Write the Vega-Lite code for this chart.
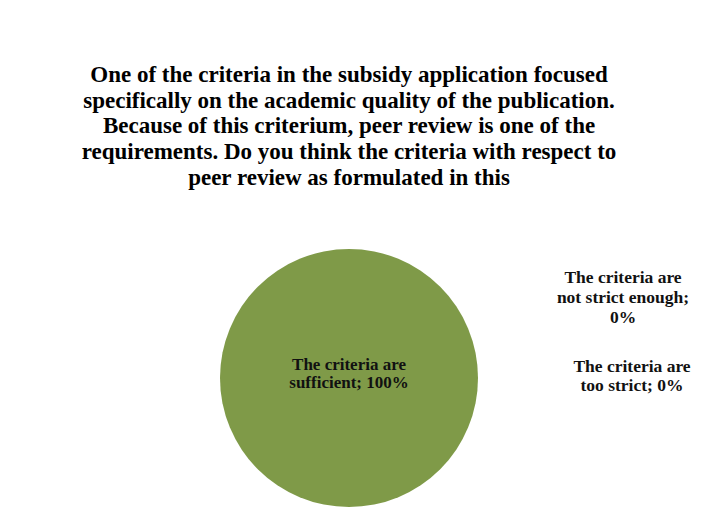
{
  "$schema": "https://vega.github.io/schema/vega-lite/v6.json",
  "width": 688,
  "height": 306,
  "autosize": {"type": "none"},
  "padding": {"left": 5, "top": 225, "right": 17, "bottom": 0},
  "background": "white",
  "view": {"stroke": null},
  "title": {
    "text": [
      "One of the criteria in the subsidy application focused",
      "specifically on the academic quality of the publication.",
      "Because of this criterium, peer review is one of the",
      "requirements. Do you think the criteria with respect to",
      "peer review as formulated in this"
    ],
    "font": "Liberation Serif",
    "fontSize": 23,
    "fontWeight": "bold",
    "color": "#000000",
    "lineHeight": 25.8,
    "anchor": "middle",
    "offset": 35
  },
  "data": {
    "values": [
      {"category": "The criteria are sufficient", "value": 100},
      {"category": "The criteria are not strict enough", "value": 0},
      {"category": "The criteria are too strict", "value": 0}
    ]
  },
  "transform": [
    {
      "calculate": "datum.category === 'The criteria are not strict enough' ? 'The criteria are\\nnot strict enough;\\n' + datum.value + '%' : replace(datum.category, 'are ', 'are\\n') + '; ' + datum.value + '%'",
      "as": "label"
    }
  ],
  "layer": [
    {
      "mark": {"type": "arc", "outerRadius": 129},
      "encoding": {
        "theta": {"field": "value", "type": "quantitative", "stack": true},
        "color": {
          "field": "category",
          "type": "nominal",
          "scale": {
            "domain": ["The criteria are sufficient", "The criteria are not strict enough", "The criteria are too strict"],
            "range": ["#7f9a48", "#c0504d", "#4f81bd"]
          },
          "legend": null
        }
      }
    },
    {
      "transform": [{"filter": "datum.category === 'The criteria are sufficient'"}],
      "mark": {"type": "text", "font": "Liberation Serif", "fontSize": 17, "fontWeight": "bold", "color": "#111111", "lineBreak": "\n", "lineHeight": 17.5, "align": "center", "baseline": "middle", "dy": -13},
      "encoding": {"text": {"field": "label"}}
    },
    {
      "transform": [{"filter": "datum.category === 'The criteria are not strict enough'"}],
      "mark": {"type": "text", "font": "Liberation Serif", "fontSize": 17.5, "fontWeight": "bold", "color": "#111111", "lineBreak": "\n", "lineHeight": 20, "align": "center", "baseline": "middle", "dx": 274, "dy": -100},
      "encoding": {"text": {"field": "label"}}
    },
    {
      "transform": [{"filter": "datum.category === 'The criteria are too strict'"}],
      "mark": {"type": "text", "font": "Liberation Serif", "fontSize": 17.5, "fontWeight": "bold", "color": "#111111", "lineBreak": "\n", "lineHeight": 19, "align": "center", "baseline": "middle", "dx": 283, "dy": -11},
      "encoding": {"text": {"field": "label"}}
    }
  ]
}
